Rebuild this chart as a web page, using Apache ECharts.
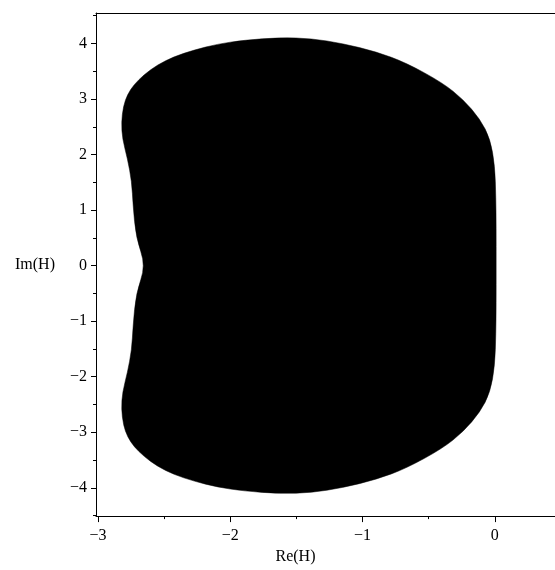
<!DOCTYPE html>
<html>
<head>
<meta charset="utf-8">
<script src="https://cdn.jsdelivr.net/npm/echarts@6/dist/echarts.min.js"></script>
<style>
html, body { margin: 0; padding: 0; background: #fff; }
#main { width: 555px; height: 570px; }
</style>
</head>
<body>
<div id="main"></div>
<script>
// upper half of the boundary, from the real axis on the right round to the notch on the left
var reUpper = [0.010, 0.010, 0.008, 0.000, -0.035, -0.111, -0.239, -0.394, -0.669, -0.896,
    -1.152, -1.387, -1.620, -1.897, -2.098, -2.275, -2.426, -2.551,
    -2.652, -2.728, -2.777, -2.808, -2.823, -2.815, -2.777, -2.745, -2.735, -2.712, -2.640];
var imUpper = [0, 0.681, 1.214, 1.801, 2.281, 2.636, 2.992, 3.289, 3.650, 3.851,
    4.000, 4.089, 4.107, 4.059, 3.988, 3.881, 3.762, 3.614,
    3.437, 3.259, 3.081, 2.873, 2.578, 2.281, 1.925, 1.516, 1.090, 0.500, 0];

var xTicks = [-3, -2, -1, 0];
var xMinor = [-2.5, -1.5, -0.5];
var yTicks = [-4, -3, -2, -1, 0, 1, 2, 3, 4];
var yMinor = [-4.5, -3.5, -2.5, -1.5, -0.5, 0.5, 1.5, 2.5, 3.5, 4.5];

// the region is symmetric about the real axis
var re = reUpper.slice();
var im = imUpper.slice();
for (var i = reUpper.length - 2; i > 0; i--) {
    re.push(reUpper[i]);
    im.push(-imUpper[i]);
}

var font = 'Liberation Serif';
var fmt = function (v) { return v < 0 ? '\u2212' + Math.abs(v) : String(v); };
var black = {color: '#000', width: 1};

var myChart = echarts.init(document.getElementById('main'));
var option = {
    animation: false,
    grid: {left: 96, right: 0, top: 13, bottom: 48},
    xAxis: [
        {
            type: 'value', min: -3.015, max: 0.455, position: 'bottom',
            axisLine: {show: true, onZero: false, lineStyle: black},
            axisTick: {show: true, length: 6, lineStyle: black, customValues: xTicks},
            axisLabel: {customValues: xTicks, formatter: fmt, color: '#000', fontFamily: font, fontSize: 16, margin: 12},
            splitLine: {show: false},
            name: 'Re(H)', nameLocation: 'middle', nameGap: 28,
            nameTextStyle: {color: '#000', fontFamily: font, fontSize: 16, padding: [0, 60, 0, 0]}
        },
        {
            type: 'value', min: -3.015, max: 0.455, position: 'bottom',
            axisLine: {show: false, onZero: false},
            axisTick: {show: true, length: 3, lineStyle: black, customValues: xMinor},
            axisLabel: {show: false},
            splitLine: {show: false}
        },
        {
            type: 'value', min: -3.015, max: 0.455, position: 'top',
            axisLine: {show: true, onZero: false, lineStyle: black},
            axisTick: {show: false},
            axisLabel: {show: false},
            splitLine: {show: false}
        }
    ],
    yAxis: [
        {
            type: 'value', min: -4.51, max: 4.548, position: 'left',
            axisLine: {show: true, onZero: false, lineStyle: black},
            axisTick: {show: true, length: 5, lineStyle: black, customValues: yTicks},
            axisLabel: {customValues: yTicks, formatter: fmt, color: '#000', fontFamily: font, fontSize: 16, margin: 9},
            splitLine: {show: false},
            name: 'Im(H)', nameLocation: 'middle', nameGap: 41, nameRotate: 0,
            nameTextStyle: {color: '#000', fontFamily: font, fontSize: 16}
        },
        {
            type: 'value', min: -4.51, max: 4.548, position: 'left',
            axisLine: {show: false, onZero: false},
            axisTick: {show: true, length: 3, lineStyle: black, customValues: yMinor},
            axisLabel: {show: false},
            splitLine: {show: false}
        }
    ],
    series: [
        {
            type: 'custom',
            xAxisIndex: 0,
            yAxisIndex: 0,
            data: [[re[0], im[0]]],
            renderItem: function (params, api) {
                var pts = [];
                for (var k = 0; k < re.length; k++) {
                    pts.push(api.coord([re[k], im[k]]));
                }
                // closed quadratic curve through the midpoints, the traced points act as controls
                var n = pts.length;
                var mid = function (a, b) { return [(a[0] + b[0]) / 2, (a[1] + b[1]) / 2]; };
                var m0 = mid(pts[n - 1], pts[0]);
                var d = 'M' + m0[0] + ' ' + m0[1];
                for (var j = 0; j < n; j++) {
                    var m = mid(pts[j], pts[(j + 1) % n]);
                    d += ' Q' + pts[j][0] + ' ' + pts[j][1] + ' ' + m[0] + ' ' + m[1];
                }
                d += ' Z';
                return {
                    type: 'path',
                    shape: {pathData: d},
                    style: {fill: '#000', stroke: '#000', lineWidth: 0.5}
                };
            }
        }
    ]
};
myChart.setOption(option);
</script>
</body>
</html>
